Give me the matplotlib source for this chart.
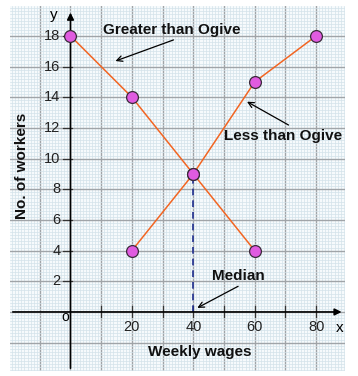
import matplotlib.pyplot as plt
from matplotlib.ticker import MultipleLocator

# data
wages_less = [20, 40, 60, 80]
workers_less = [4, 9, 15, 18]
wages_greater = [0, 20, 40, 60]
workers_greater = [18, 14, 9, 4]
median_wage = 40
median_workers = 9
x_tick_vals = [20, 40, 60, 80]
y_tick_vals = [2, 4, 6, 8, 10, 12, 14, 16, 18]

W, H = 358, 376
fig = plt.figure(figsize=(W / 100, H / 100), dpi=100)
plt.rcParams['font.family'] = ['Liberation Sans', 'DejaVu Sans']

# paper area in pixels: left 10, right 345, top 6, bottom 371
ax = fig.add_axes([10 / W, 1 - 371 / H, (345 - 10) / W, (371 - 6) / H])
ax.set_xlim(-19.7, 89.4)
ax.set_ylim(-3.85, 19.95)
ax.set_facecolor('#f6fafc')

# graph paper grid
ax.xaxis.set_major_locator(MultipleLocator(10))
ax.xaxis.set_minor_locator(MultipleLocator(1))
ax.yaxis.set_major_locator(MultipleLocator(2))
ax.yaxis.set_minor_locator(MultipleLocator(0.2))
ax.grid(which='minor', color='#d3e3ea', lw=0.5)
ax.grid(which='major', color='#a0a4a8', lw=1.0)
ax.set_axisbelow(True)
ax.tick_params(which='both', length=0, labelbottom=False, labelleft=False)
for s in ax.spines.values():
    s.set_visible(False)

# axes with arrows
ax.annotate('', xy=(89.2, 0), xytext=(-19.7, 0),
            arrowprops=dict(arrowstyle='-|>', color='black', lw=1.2, mutation_scale=10))
ax.annotate('', xy=(0, 19.7), xytext=(0, -3.85),
            arrowprops=dict(arrowstyle='-|>', color='black', lw=1.2, mutation_scale=10))

# ticks
for xv in range(10, 90, 10):
    ax.plot([xv, xv], [-0.35, 0.4], color='#333333', lw=0.9)
for xv in x_tick_vals:
    ax.text(xv, -0.95, str(xv), ha='center', va='center', fontsize=10.5, color='#222222')
for yv in y_tick_vals:
    ax.plot([-2.3, 0.5], [yv, yv], color='#333333', lw=0.9)
    ax.text(-3.3, yv, str(yv), ha='right', va='center', fontsize=10.5, color='#222222')

ax.text(-1.8, -0.35, 'o', ha='center', va='center', fontsize=10)
ax.text(-5.6, 19.35, 'y', ha='center', va='center', fontsize=11)
ax.text(87.5, -1.05, 'x', ha='center', va='center', fontsize=11)

# ogives
ax.plot(wages_greater, workers_greater, color='#f26522', lw=1.1, zorder=3)
ax.plot(wages_less, workers_less, color='#f26522', lw=1.1, zorder=3)
ax.plot(wages_greater, workers_greater, 'o', ms=8.5, mfc='#e05be0', mec='#3a2a3a', mew=0.9, zorder=4)
ax.plot(wages_less, workers_less, 'o', ms=8.5, mfc='#e05be0', mec='#3a2a3a', mew=0.9, zorder=4)

# median dashed line
ax.plot([median_wage, median_wage], [0, median_workers], color='#1f2f8f', lw=1.2,
        ls=(0, (4, 3)), zorder=2)

# labels and arrows
lbl = dict(fontsize=11, fontweight='bold', color='#111111', ha='center', va='center')
ax.text(33.0, 18.4, 'Greater than Ogive', **lbl)
ax.annotate('', xy=(13.8, 16.3), xytext=(34.4, 17.8),
            arrowprops=dict(arrowstyle='->', color='black', lw=0.9))
ax.text(69.2, 11.5, 'Less than Ogive', **lbl)
ax.annotate('', xy=(56.7, 13.8), xytext=(71.8, 12.1),
            arrowprops=dict(arrowstyle='->', color='black', lw=0.9))
ax.text(54.7, 2.35, 'Median', **lbl)
ax.annotate('', xy=(40.5, 0.18), xytext=(55.4, 1.76),
            arrowprops=dict(arrowstyle='->', color='black', lw=0.9))

ax.text(42.2, -2.6, 'Weekly wages', **lbl)
ax.text(-15.8, 9.5, 'No. of workers', rotation=90, **lbl)

fig.savefig('out.png', dpi=100)
